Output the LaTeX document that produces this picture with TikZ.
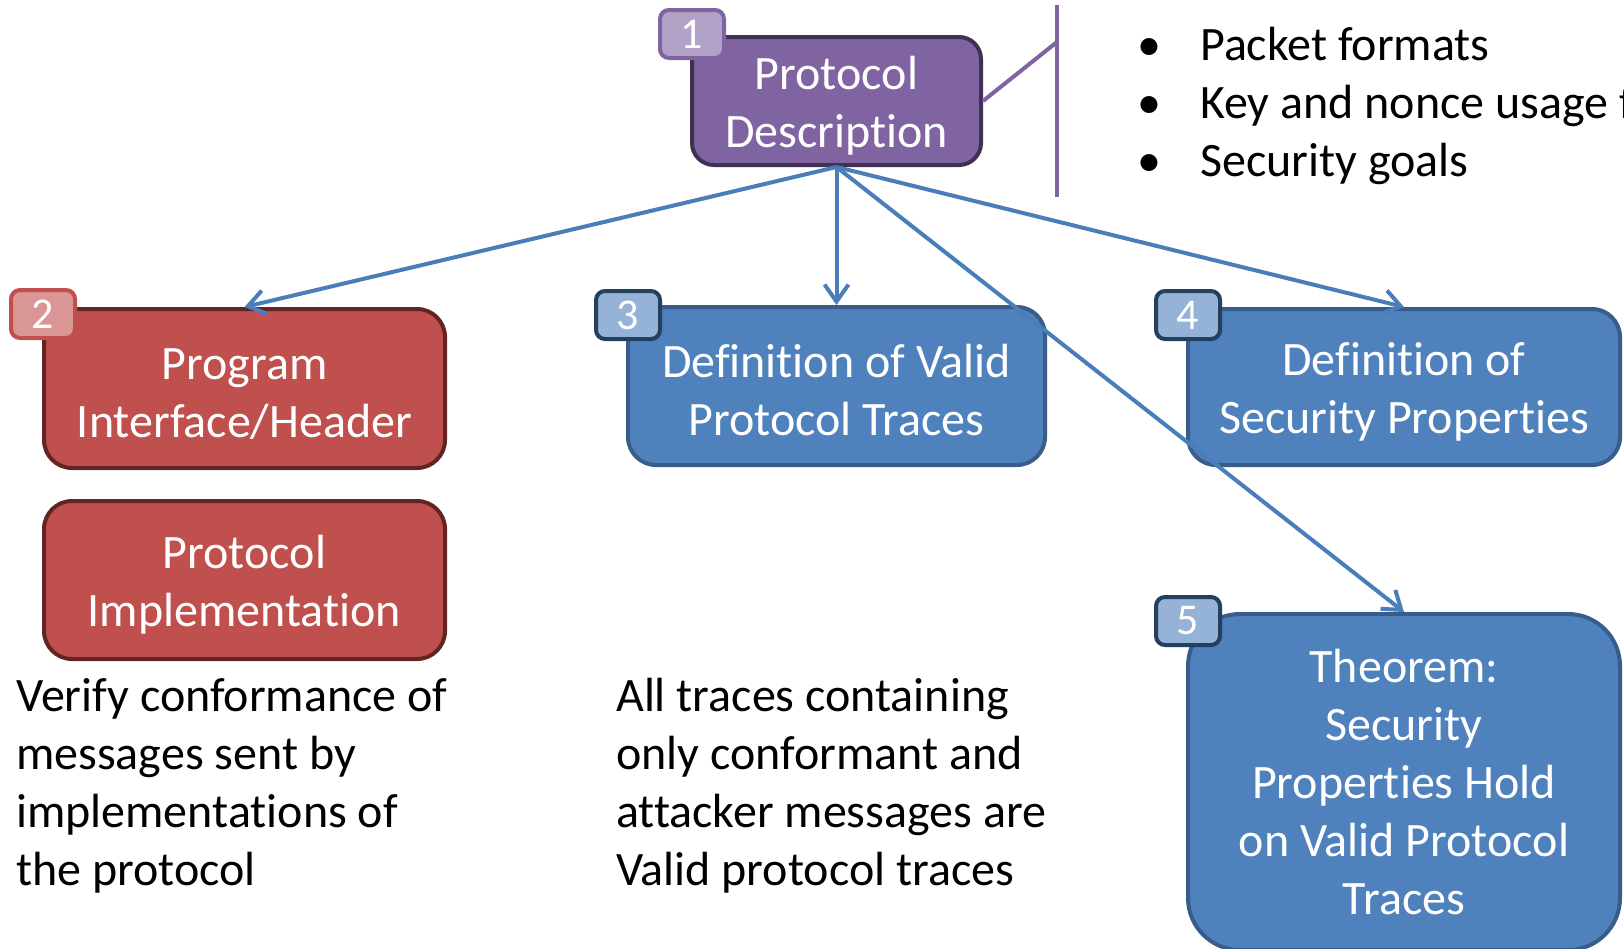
\documentclass[tikz,border=0pt]{standalone}
\usepackage{fontspec}
\setmainfont{Carlito}[Ligatures=NoCommon]
\usetikzlibrary{arrows.meta,positioning}

\definecolor{descfill}{HTML}{8064A2}
\definecolor{descline}{HTML}{3F3151}
\definecolor{descbadge}{HTML}{B3A2C7}
\definecolor{redfill}{HTML}{C0504D}
\definecolor{redline}{HTML}{632523}
\definecolor{redbadge}{HTML}{D99694}
\definecolor{bluefill}{HTML}{4F81BD}
\definecolor{blueline}{HTML}{385D8A}
\definecolor{bluebadge}{HTML}{95B3D7}
\definecolor{badgeline}{HTML}{243F60}
\definecolor{linkblue}{HTML}{4A7EBB}

% taller first line, pushes box text a little down
\newcommand\boxlift{\rule{0pt}{42pt}}

\tikzset{
  box/.style={draw, line width=4pt, rounded corners=28pt, text=white, align=center, inner sep=0pt},
  descbox/.style={box, fill=descfill, draw=descline, rounded corners=22pt},
  redbox/.style={box, fill=redfill, draw=redline},
  bluebox/.style={box, fill=bluefill, draw=blueline},
  badge/.style={draw, line width=4pt, rounded corners=9pt, text=white, anchor=north west,
    minimum width=64pt, minimum height=48pt, inner sep=0pt, font=\fontsize{44}{50}\selectfont},
  link/.style={draw=linkblue, line width=4pt, -{Straight Barb[length=17pt,width=24pt]}},
  bracket/.style={draw=descfill, line width=4pt},
  note/.style={align=left, inner sep=0pt, anchor=north west},
}

\begin{document}
\begin{tikzpicture}[x=1pt,y=-1pt,font=\fontsize{48}{58}\selectfont]
  \fill[white] (0,0) rectangle (1624,948);
  \useasboundingbox (0,0) rectangle (1624,948);
  \clip (0,0) rectangle (1624,948);

  % boxes
  \node[descbox, minimum width=289pt, minimum height=128pt] (desc) at (836.5,101) {\boxlift Protocol\\Description};
  \node[redbox, minimum width=401pt, minimum height=159pt] (prog) at (244.5,388.5) {\boxlift Program\\Interface/Header};
  \node[redbox, minimum width=401pt, minimum height=158pt] (impl) at (244.5,580) {\boxlift Protocol\\Implementation};
  \node[bluebox, minimum width=417pt, minimum height=158pt] (valid) at (836.5,386) {\boxlift Definition of Valid\\Protocol Traces};
  \node[bluebox, minimum width=432pt, minimum height=156pt] (props) at (1404,387) {\boxlift Definition of\\Security Properties};
  \node[bluebox, rounded corners=52pt, minimum width=432pt, minimum height=336pt] (thm) at (1404,782)
    {Theorem:\\Security\\Properties Hold\\on Valid Protocol\\Traces};

  % numbered badges
  \node[badge, fill=descbadge, draw=descfill] (n1) at ([shift={(-32,-27)}]desc.north west) {1};
  \node[badge, fill=redbadge, draw=redfill] (n2) at ([shift={(-33,-19)}]prog.north west) {2};
  \node[badge, fill=bluebadge, draw=badgeline] (n3) at ([shift={(-32,-16)}]valid.north west) {3};
  \node[badge, fill=bluebadge, draw=badgeline] (n4) at ([shift={(-32,-18)}]props.north west) {4};
  \node[badge, fill=bluebadge, draw=badgeline] (n5) at ([shift={(-32,-17)}]thm.north west) {5};

  % bracket and bullet list
  \coordinate (btop) at (1057,5);
  \coordinate (bbot) at (1057,197);
  \coordinate (bjoin) at (1057,42);
  \draw[bracket] (btop) -- (bbot);
  \draw[bracket] (desc.east) -- (bjoin);
  \node[note] (goals) at (1137,27)
    {\makebox[63pt][l]{\textbullet}Packet formats\\
     \makebox[63pt][l]{\textbullet}Key and nonce usage f\\
     \makebox[63pt][l]{\textbullet}Security goals};

  % notes under the boxes
  \node[note] (verify) at (16,678) {Verify conformance of\\messages sent by\\implementations of\\the protocol};
  \node[note] (traces) at (616,678) {All traces containing\\only conformant and\\attacker messages are\\Valid protocol traces};

  % links from the description
  \draw[link] (desc.south) -- (prog.north);
  \draw[link] (desc.south) -- (valid.north);
  \draw[link] (desc.south) -- (props.north);
  \draw[link] (desc.south) -- (thm.north);
\end{tikzpicture}
\end{document}
